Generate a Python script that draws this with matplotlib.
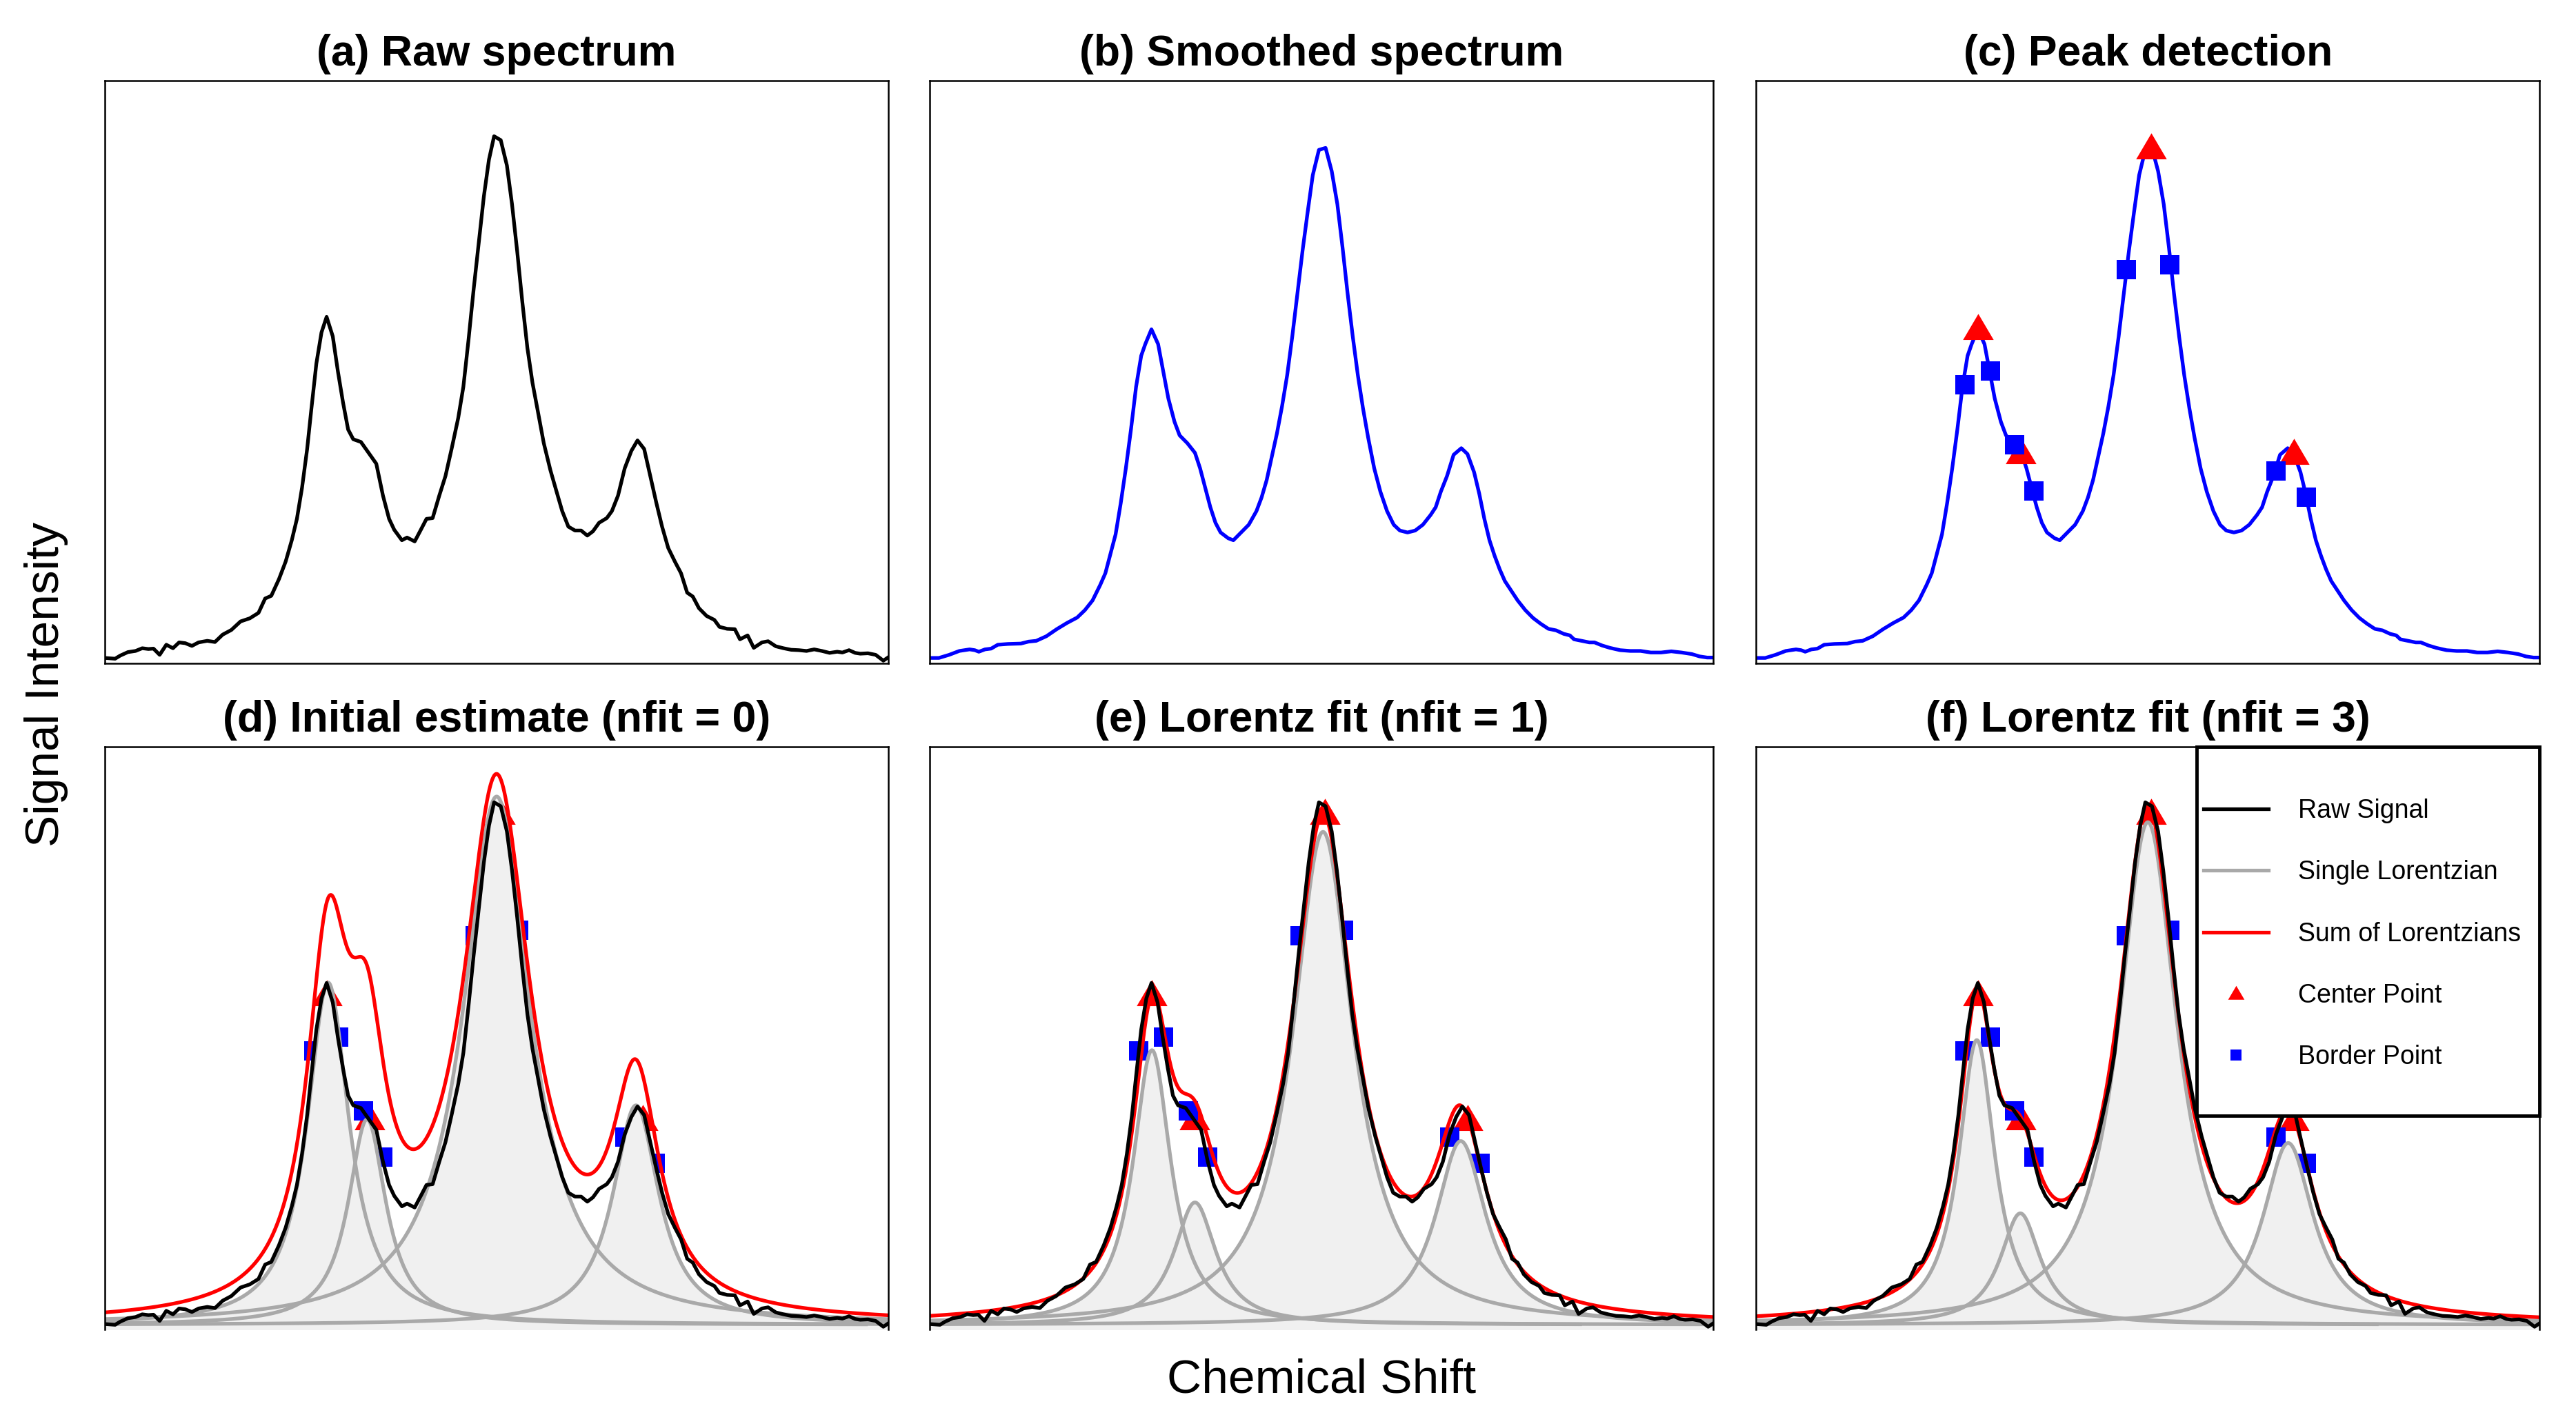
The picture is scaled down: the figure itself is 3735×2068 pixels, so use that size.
import numpy as np
import matplotlib
matplotlib.use("Agg")
import matplotlib.pyplot as plt
from matplotlib.lines import Line2D
from matplotlib.patches import Rectangle
from matplotlib.path import Path

plt.rcParams['font.family'] = ['Liberation Sans', 'DejaVu Sans']

# raw spectrum (data point index, intensity in a.u.)
raw_x = [0, 20, 30, 45, 60, 73, 85, 95, 107, 120, 133, 145, 157, 170, 183, 200, 215, 230,
         247, 265, 283, 300, 313, 325, 340, 353, 365, 375, 385, 395, 403, 413, 423, 433,
         445, 455, 465, 475, 485, 500, 515, 530, 543, 555, 565, 580, 590, 605, 617, 628,
         640, 653, 665, 677, 690, 700, 710, 720, 730, 740, 750, 760, 773, 785, 795, 805,
         815, 825, 835, 845, 857, 870, 882, 893, 905, 918, 930, 942, 953, 965, 980, 990,
         1002, 1015, 1028, 1040, 1053, 1065, 1077, 1088, 1100, 1113, 1125, 1137, 1148,
         1160, 1175, 1190, 1200, 1215, 1230, 1240, 1255, 1267, 1283, 1295, 1310, 1325,
         1340, 1355, 1370, 1385, 1400, 1415, 1430, 1440, 1453, 1465, 1475, 1490, 1505,
         1520, 1530]
raw_y = [2, 0, 8, 17, 20, 27, 25, 26, 10, 36, 27, 42, 40, 33, 42, 46, 43, 62,
         74, 96, 104, 118, 155, 162, 205, 250, 305, 360, 440, 540, 640, 760, 840, 880,
         830, 740, 660, 590, 565, 558, 530, 502, 420, 360, 332, 305, 312, 302, 332, 360,
         362, 420, 470, 540, 620, 700, 820, 950, 1070, 1190, 1285, 1345, 1335, 1270, 1170, 1050,
         920, 800, 710, 640, 555, 485, 430, 380, 340, 330, 330, 317, 328, 350, 362, 380,
         420, 490, 535, 562, 540, 470, 400, 340, 285, 250, 220, 170, 160,
         130, 110, 100, 82, 77, 76, 50, 60, 28, 42, 45, 32, 27,
         23, 22, 20, 24, 20, 15, 18, 16, 22, 15, 13, 14, 10,
         -5, 4]

# smoothed spectrum
smooth_x = [0, 18, 38, 58, 78, 88, 96, 108, 120, 133, 153, 178, 193, 208, 228, 248, 268,
            288, 303, 318, 333, 343, 353, 363, 373, 383, 393, 403, 413, 421, 433, 446, 456,
            466, 478, 488, 503, 518, 528, 538, 548, 558, 568, 583, 593, 608, 623, 638, 648,
            658, 668, 678, 688, 698, 708, 718, 728, 738, 748, 760, 773, 785, 796, 806, 816,
            826, 836, 846, 856, 868, 880, 893, 906, 918, 933, 948, 963, 978, 988, 998, 1010,
            1023, 1038, 1050, 1063, 1073, 1083, 1093, 1103, 1113, 1123, 1138, 1148, 1163,
            1178, 1193, 1208, 1223, 1238, 1250, 1258, 1273, 1288, 1298, 1313, 1328, 1348,
            1368, 1388, 1408, 1428, 1448, 1468, 1488, 1503, 1518, 1530]
smooth_y = [2, 2, 10, 20, 24, 22, 18, 24, 26, 36, 38, 39, 44, 46, 58, 76, 92,
            106, 125, 150, 190, 220, 270, 320, 400, 490, 590, 700, 780, 810, 848, 810, 740,
            670, 610, 575, 555, 530, 490, 440, 390, 350, 325, 310, 305, 325, 345, 380, 415,
            460, 520, 580, 650, 730, 830, 940, 1050, 1150, 1245, 1310, 1315, 1255, 1170, 1060, 940,
            830, 730, 645, 570, 490, 430, 380, 345, 330, 325, 330, 345, 370, 390, 430, 470,
            525, 542, 527, 480, 425, 360, 305, 265, 230, 200, 170, 150, 125,
            105, 90, 77, 73, 64, 60, 50, 46, 42, 42, 34, 28, 22,
            20, 20, 16, 16, 19, 16, 12, 6, 3, 3]

# detected peak centers and border points
center_x = [433, 517, 772, 1050]
center_y = [849, 530, 1315, 527]
border_x = [408, 457, 505, 543, 723, 808, 1015, 1075]
border_y = [705, 740, 550, 432, 1002, 1015, 483, 415]

# Lorentzian parameters for panels (d), (e), (f)
lor_center = [[436, 512, 765, 1037], [434, 518, 768, 1037], [431, 516, 765, 1039]]
lor_height = [[881, 529, 1360, 565], [707, 315, 1269, 473], [733, 287, 1294, 468]]
lor_width = [[50, 45, 80, 55], [45, 50, 72, 60], [43, 48, 70, 60]]
lor_end = [[1530, 1486, 1530, 1530], [1530, 1270, 1530, 1530], [1530, 1212, 1530, 1530]]

top_titles = ['(a) Raw spectrum', '(b) Smoothed spectrum', '(c) Peak detection']
fit_titles = ['(d) Initial estimate (nfit = 0)', '(e) Lorentz fit (nfit = 1)',
              '(f) Lorentz fit (nfit = 3)']
legend_labels = ['Raw Signal', 'Single Lorentzian', 'Sum of Lorentzians',
                 'Center Point', 'Border Point']

XLIM = (0, 1530)
YLIM = (-12, 1488)
LW = 3.8
GREY = '#A9A9A9'
FILL = '#F0F0F0'

tri = Path([(-1, -0.7), (1, -0.7), (0, 1.0), (-1, -0.7)],
           [Path.MOVETO, Path.LINETO, Path.LINETO, Path.CLOSEPOLY])

fig = plt.figure(figsize=(37.35, 20.68), dpi=100)
lefts = [0.0407, 0.3609, 0.6817]
bottoms = [0.5348, 0.0677]
W, H = 0.3042, 0.4086


def setup(ax, title):
    ax.set_xlim(*XLIM)
    ax.set_ylim(*YLIM)
    ax.set_xticks([])
    ax.set_yticks([])
    for s in ax.spines.values():
        s.set_linewidth(1.8)
        s.set_zorder(5)
    ax.set_title(title, fontsize=45, fontweight='bold', pad=16)


def points(ax, z=2):
    ax.plot(center_x, center_y, ls='none', marker=tri, ms=32, color='red',
            markeredgewidth=0, zorder=z)
    ax.plot(border_x, border_y, ls='none', marker='s', ms=20.5, color='blue',
            markeredgewidth=0, zorder=z + 0.1)


top = [fig.add_axes([l, bottoms[0], W, H]) for l in lefts]
bot = [fig.add_axes([l, bottoms[1], W, H]) for l in lefts]

# (a)
setup(top[0], top_titles[0])
top[0].plot(raw_x, raw_y, color='black', lw=LW)

# (b)
setup(top[1], top_titles[1])
top[1].plot(smooth_x, smooth_y, color='blue', lw=LW)

# (c)
setup(top[2], top_titles[2])
top[2].plot(smooth_x, smooth_y, color='blue', lw=LW, zorder=1.5)
points(top[2], z=3)

# (d)-(f)
grid = np.arange(XLIM[0], XLIM[1] + 1)
for k, ax in enumerate(bot):
    setup(ax, fit_titles[k])
    ax.spines['bottom'].set_visible(False)
    points(ax)
    total = np.zeros_like(grid, dtype=float)
    curves = []
    for c, hgt, wd, end in zip(lor_center[k], lor_height[k], lor_width[k], lor_end[k]):
        y = hgt / (1 + ((grid - c) / wd) ** 2)
        total += y
        m = grid <= end
        curves.append((grid[m], y[m]))
    for gx, gy in curves:
        ax.fill_between(gx, YLIM[0], gy, color=FILL, lw=0, zorder=3)
    for gx, gy in curves:
        ax.plot(gx, gy, color=GREY, lw=LW, zorder=3.1)
    ax.plot(grid, total, color='red', lw=LW, zorder=3.2)
    ax.plot(raw_x, raw_y, color='black', lw=LW, zorder=3.3)

# legend on (f)
axf = bot[2]
axf.add_patch(Rectangle((0.562, 0.367), 0.438, 0.633, transform=axf.transAxes,
                        facecolor='white', edgecolor='black', lw=3.5, zorder=15,
                        clip_on=False))
handles = [Line2D([], [], color='black', lw=3.8),
           Line2D([], [], color=GREY, lw=3.8),
           Line2D([], [], color='red', lw=3.8),
           Line2D([], [], ls='none', marker=tri, ms=17, color='red', markeredgewidth=0),
           Line2D([], [], ls='none', marker='s', ms=12, color='blue', markeredgewidth=0)]
leg = axf.legend(handles, legend_labels, loc='upper left', bbox_to_anchor=(0.571, 0.911),
                 frameon=False, fontsize=27, borderpad=0, borderaxespad=0,
                 handlelength=2.5, handletextpad=1.15, labelspacing=1.42)
leg.set_zorder(20)

fig.text(0.513, 0.032, 'Chemical Shift', ha='center', va='center', fontsize=50)
fig.text(0.018, 0.52, 'Signal Intensity', ha='center', va='center', rotation=90, fontsize=50)

fig.savefig('out.png', dpi=100)
